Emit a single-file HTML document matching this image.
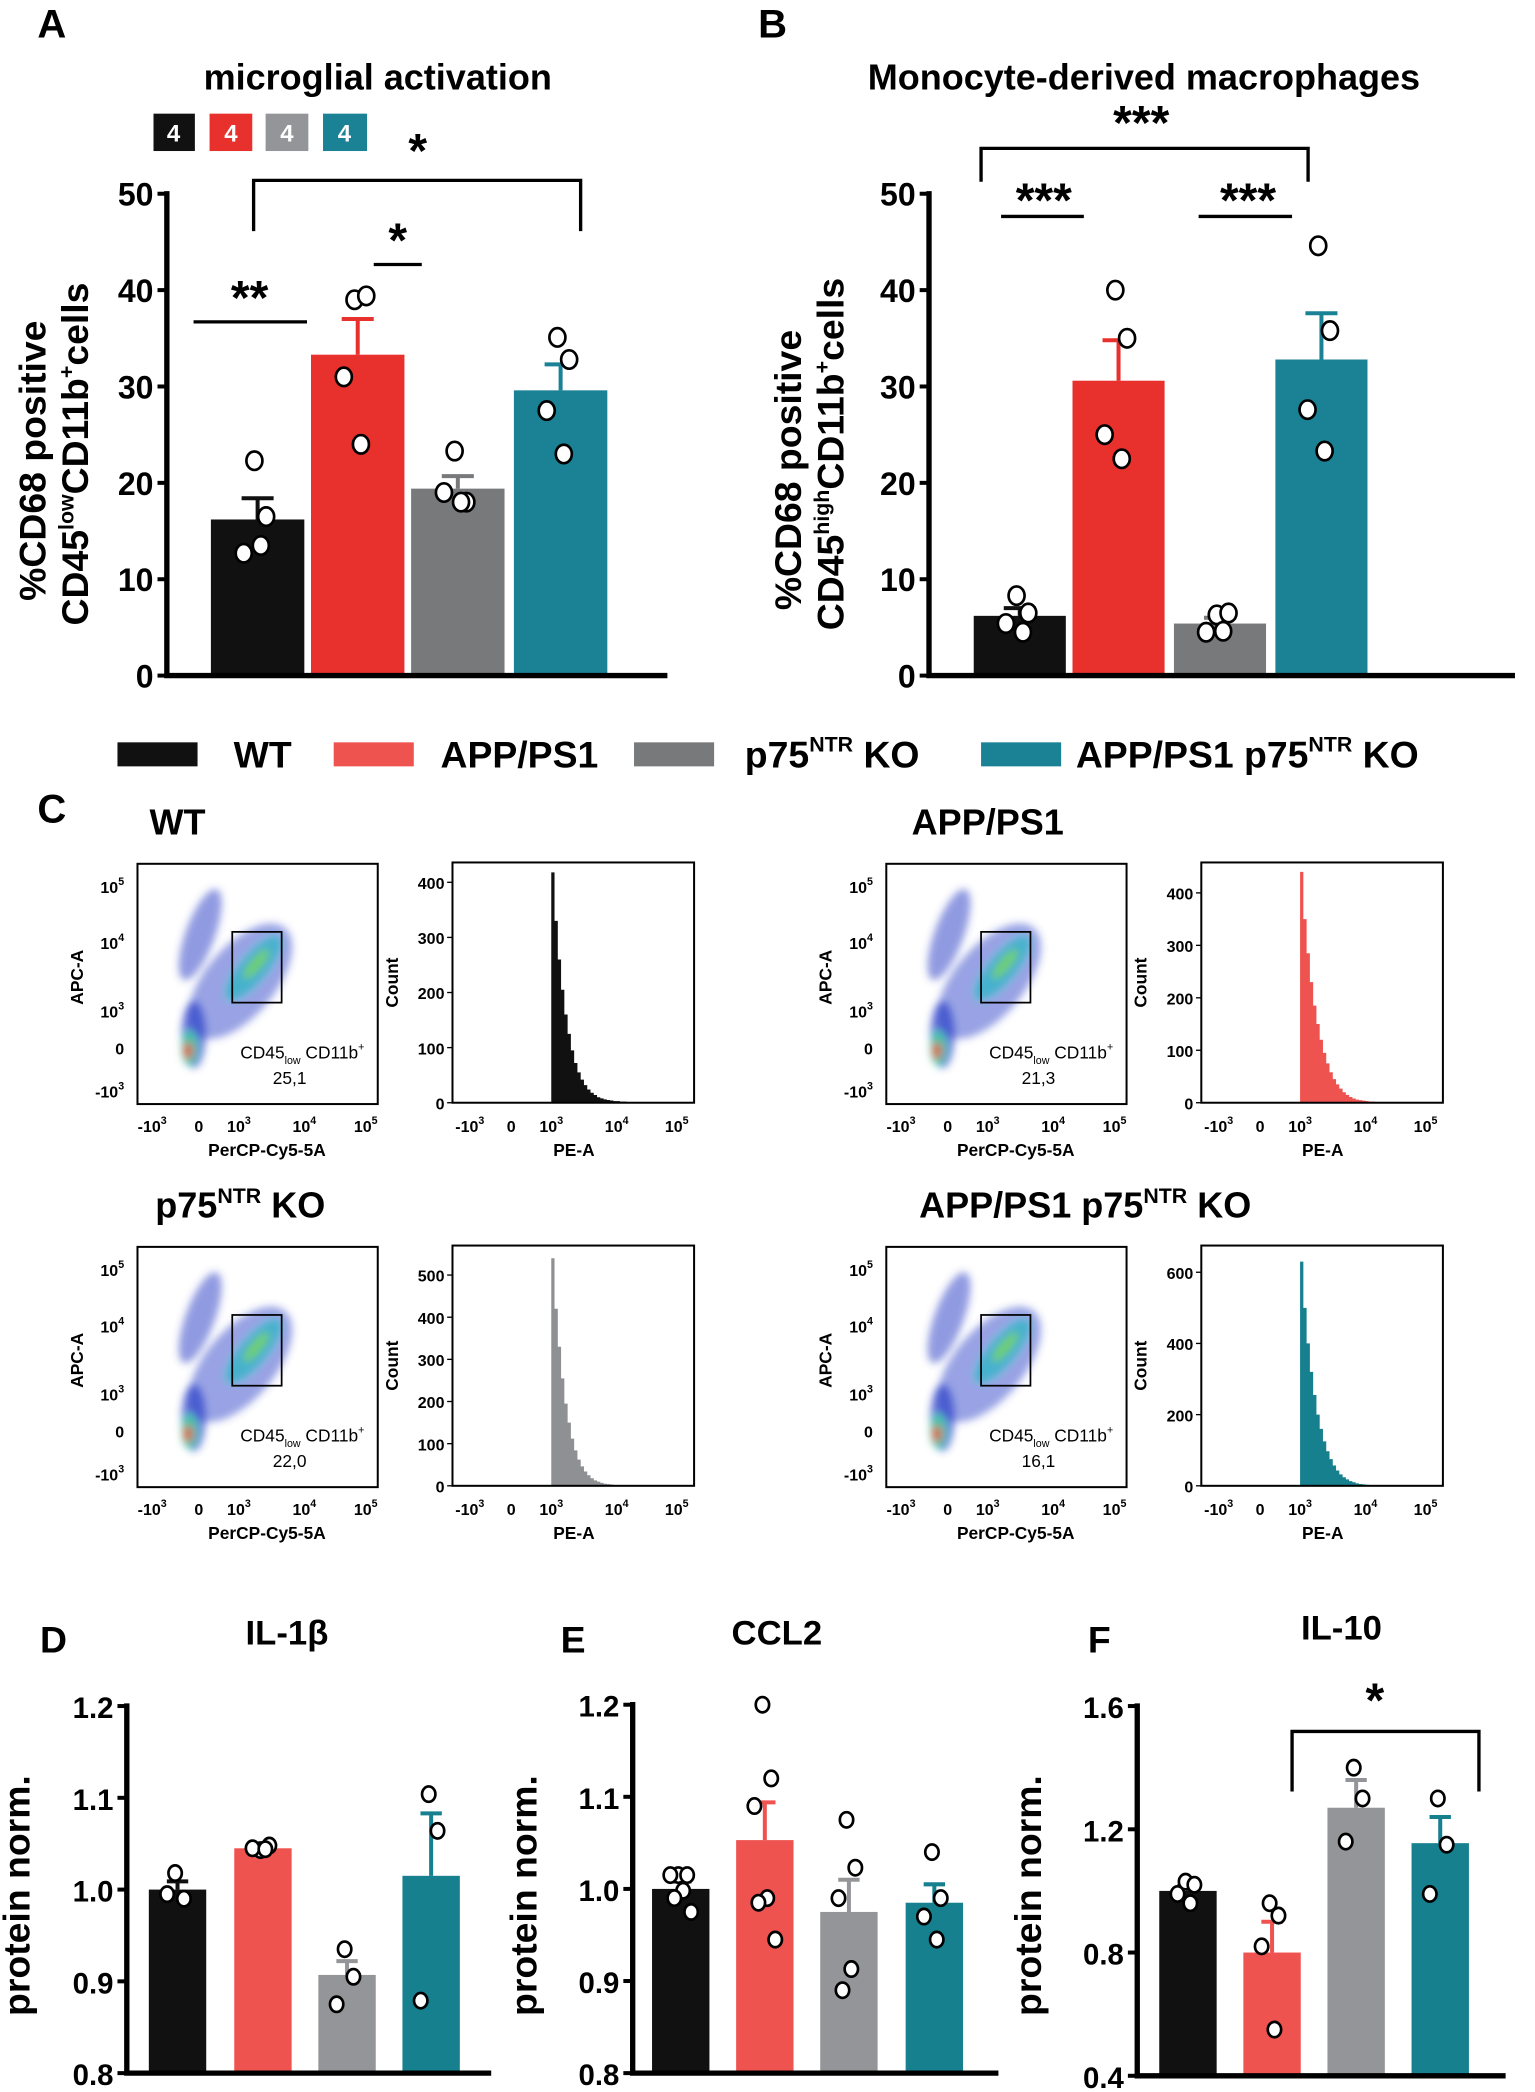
<!DOCTYPE html>
<html><head><meta charset="utf-8">
<style>
html,body{margin:0;padding:0;background:#fff;}
svg{display:block;font-family:"Liberation Sans",Arial,sans-serif;}
</style></head>
<body>
<svg id="fig" width="1535" height="2092" viewBox="0 0 1150 1567" xmlns="http://www.w3.org/2000/svg">
<defs>
<filter id="blur3"><feGaussianBlur stdDeviation="3"/></filter>
</defs>
<text x="28" y="28" font-size="30" font-weight="bold">A</text>
<text x="568" y="28" font-size="30" font-weight="bold">B</text>
<text x="28" y="616" font-size="30" font-weight="bold">C</text>
<text x="30" y="1238" font-size="28" font-weight="bold">D</text>
<text x="420" y="1238" font-size="28" font-weight="bold">E</text>
<text x="815" y="1238" font-size="28" font-weight="bold">F</text>
<text x="283" y="67" font-size="27" font-weight="bold" text-anchor="middle">microglial activation</text>
<text x="857" y="67" font-size="27" font-weight="bold" text-anchor="middle">Monocyte-derived macrophages</text>
<text x="215" y="1232" font-size="26" font-weight="bold" text-anchor="middle">IL-1β</text>
<text x="582" y="1232" font-size="26" font-weight="bold" text-anchor="middle">CCL2</text>
<text x="1005" y="1228" font-size="26" font-weight="bold" text-anchor="middle">IL-10</text>
<g font-size="18" font-weight="bold" fill="#fff" text-anchor="middle">
<rect x="115" y="85" width="31" height="28" fill="#111"/><text x="130" y="106">4</text>
<rect x="157" y="85" width="32" height="28" fill="#e8312d"/><text x="173" y="106">4</text>
<rect x="199" y="85" width="32" height="28" fill="#939598"/><text x="215" y="106">4</text>
<rect x="242" y="85" width="33" height="28" fill="#1b8296"/><text x="258" y="106">4</text>
</g>
<g font-size="28" font-weight="bold">
<text transform="translate(34,345) rotate(-90)" text-anchor="middle">%CD68 positive</text>
<text transform="translate(66,340) rotate(-90)" text-anchor="middle">CD45<tspan font-size="16" dy="-11">low</tspan><tspan dy="11">CD11b</tspan><tspan font-size="16" dy="-11">+</tspan><tspan dy="11">cells</tspan></text>
</g>
<g font-size="28" font-weight="bold">
<text transform="translate(600,352) rotate(-90)" text-anchor="middle">%CD68 positive</text>
<text transform="translate(632,340) rotate(-90)" text-anchor="middle">CD45<tspan font-size="16" dy="-11">high</tspan><tspan dy="11">CD11b</tspan><tspan font-size="16" dy="-11">+</tspan><tspan dy="11">cells</tspan></text>
</g>
<g font-size="28" font-weight="bold">
<rect x="88" y="556" width="60" height="18" fill="#111"/>
<text x="175" y="575">WT</text>
<rect x="250" y="556" width="60" height="18" fill="#ef5350"/>
<text x="330" y="575">APP/PS1</text>
<rect x="475" y="556" width="60" height="18" fill="#77797b"/>
<text x="558" y="575">p75<tspan font-size="16" dy="-12">NTR</tspan><tspan dy="12"> KO</tspan></text>
<rect x="735" y="556" width="60" height="18" fill="#1b8296"/>
<text x="806" y="575">APP/PS1 p75<tspan font-size="16" dy="-12">NTR</tspan><tspan dy="12"> KO</tspan></text>
</g>
<g id="layer"></g>
</svg>
<script>
const groups = ['WT','APP/PS1','p75NTR KO','APP/PS1 p75NTR KO'];
const aMeans = [16.2, 33.3, 19.4, 29.6];
const aErr = [2.2, 3.7, 1.3, 2.7];
const aPoints = [[22.3,16.5,12.7,13.5],[39,39.4,31,24],[23.3,18,19,18],[35.1,32.8,27.5,23]];
const bMeans = [6.2, 30.6, 5.4, 32.8];
const bErr = [0.8, 4.2, 0.6, 4.8];
const bPoints = [[8.3,6.5,5.4,4.5],[40,35,25,22.5],[6.3,6.5,4.5,4.6],[44.6,35.8,27.6,23.3]];
const abTicks = [0,10,20,30,40,50];
const dMeans = [1.0, 1.045, 0.907, 1.015];
const dErr = [0.009, 0.002, 0.015, 0.068];
const dPoints = [[1.018,0.99,0.995],[1.043,1.048,1.045,1.044],[0.935,0.905,0.875],[1.104,1.064,0.879]];
const deTicks = [0.8,0.9,1.0,1.1,1.2];
const eMeans = [1.0, 1.053, 0.975, 0.985];
const eErr = [0.008, 0.041, 0.035, 0.02];
const ePoints = [[1.015,1.015,1.015,0.998,0.99,0.975],[1.2,1.12,1.09,0.99,0.985,0.945],[1.075,1.023,0.99,0.913,0.89],[1.04,0.99,0.97,0.945]];
const fMeans = [1.0, 0.8, 1.27, 1.155];
const fErr = [0.015, 0.1, 0.09, 0.085];
const fPoints = [[1.03,1.02,0.99,0.96],[0.96,0.92,0.82,0.55],[1.4,1.3,1.16],[1.3,1.15,0.99]];
const fTicks = [0.4,0.8,1.2,1.6];
const histWT = [418,330,260,205,160,125,95,72,55,42,32,24,18,14,10,8,6,5,4,3,3,2,2,1,1];
const histAPP = [440,350,285,230,185,150,120,95,75,58,45,35,27,20,15,11,8,6,5,4,3,2,2,1,1];
const histP75 = [540,420,330,255,195,150,112,84,62,46,34,25,18,13,10,7,5,4,3,2,2,1,1,1,1];
const histAPPP75 = [630,500,400,320,255,200,160,125,97,75,57,43,32,24,18,13,10,7,5,4,3,2,2,1,1];
const gateValues = ['25,1','21,3','22,0','16,1'];

const NS='http://www.w3.org/2000/svg';
const layer=document.getElementById('layer');
function mk(tag,attrs,parent){const e=document.createElementNS(NS,tag);for(const k in attrs)e.setAttribute(k,attrs[k]);(parent||layer).appendChild(e);return e;}

const colsTop=['#111111','#e8312d','#77797b','#1b8296'];
const colsBot=['#111111','#ef5350','#939598','#17808f'];

function barChart(o,means,errs,pts,ticks,cols){
  const g=mk('g',{});
  
  
  const y=v=>o.y0-(v-o.vmin)/(o.vmax-o.vmin)*(o.y0-o.ytop);
  means.forEach((m,i)=>{
    const cx=o.cx[i];
    const r=mk('rect',{x:cx-o.bw/2,y:y(m),width:o.bw,height:o.y0-y(m),fill:cols[i]},g);
    
    
    const ey=y(m+errs[i]);
    const el=mk('path',{d:`M${cx},${y(m)}V${ey}M${cx-o.cap},${ey}H${cx+o.cap}`,stroke:cols[i],'stroke-width':o.ew,fill:'none'},g);
    
    
    pts[i].forEach((v,j)=>{
      const off=(j%2?1:-1)*o.sp*((j%3)/2+0.3);
      const c=mk('ellipse',{cx:cx+off,cy:y(v),rx:o.pr,ry:o.pr*1.15,fill:'#fff',stroke:'#000','stroke-width':2},g);
      
      
    });
  });
  mk('path',{d:`M${o.ax},${o.ytop-2}V${o.y0}H${o.axEnd}`,stroke:'#000','stroke-width':o.aw,fill:'none'},g);
  ticks.forEach(t=>{
    mk('line',{x1:o.ax-7,x2:o.ax,y1:y(t),y2:y(t),stroke:'#000','stroke-width':3},g);
    const tx=mk('text',{x:o.ax-10,y:y(t)+9,'font-size':o.fs,'font-weight':'bold','text-anchor':'end'},g);
    tx.textContent=o.fmt?t.toFixed(1):t;
    
    
  });
  return g;
}
barChart({name:'chart-a',ax:125,axEnd:500,y0:506,ytop:145,vmin:0,vmax:50,cx:[193,268,343,420],bw:70,cap:12,ew:3,pr:6,sp:8,aw:4,fs:24},aMeans,aErr,aPoints,abTicks,colsTop);
barChart({name:'chart-b',ax:696,axEnd:1135,y0:506,ytop:145,vmin:0,vmax:50,cx:[764,838,914,990],bw:69,cap:12,ew:3,pr:6,sp:8,aw:4,fs:24},bMeans,bErr,bPoints,abTicks,colsTop);
barChart({name:'chart-d',ax:95,axEnd:368,y0:1553,ytop:1278,vmin:0.8,vmax:1.2,cx:[133,197,260,323],bw:43,cap:8,ew:3,pr:5,sp:6,aw:4,fs:22,fmt:1},dMeans,dErr,dPoints,deTicks,colsBot);
barChart({name:'chart-e',ax:474,axEnd:748,y0:1553,ytop:1277,vmin:0.8,vmax:1.2,cx:[510,573,636,700],bw:43,cap:8,ew:3,pr:5,sp:6,aw:4,fs:22,fmt:1},eMeans,eErr,ePoints,deTicks,colsBot);
barChart({name:'chart-f',ax:852,axEnd:1128,y0:1555,ytop:1278,vmin:0.4,vmax:1.6,cx:[890,953,1016,1079],bw:43,cap:8,ew:3,pr:5,sp:6,aw:4,fs:22,fmt:1},fMeans,fErr,fPoints,fTicks,colsBot);

[[22,'y-axis-title-d'],[402,'y-axis-title-e'],[780,'y-axis-title-f']].forEach(([x,n])=>{
  const t=mk('text',{transform:`translate(${x},1420) rotate(-90)`,'font-size':28,'font-weight':'bold','text-anchor':'middle'});
  t.textContent='protein norm.';
  
  
});

function sig(d,sx,sy,label,name){
  const g=mk('g',{});
  
  
  mk('path',{d:d,stroke:'#000','stroke-width':2.5,fill:'none'},g);
  const t=mk('text',{x:sx,y:sy,'font-size':36,'font-weight':'bold','text-anchor':'middle'},g);
  t.textContent=label;
}
sig('M145,241H230',187,235,'**','sig-wt-app-a');
sig('M280,198H316',298,192,'*','sig-app-p75-a');
sig('M190,173V135H435V173',313,125,'*','sig-wt-appp75-a');
sig('M750,162H812',782,162,'***','sig-wt-app-b');
sig('M898,162H968',935,162,'***','sig-p75-appp75-b');
sig('M735,136V111H980V136',855,104,'***','sig-wt-appp75-b');
sig('M968,1342V1297H1108V1342',1030,1286,'*','sig-app-appp75-f');

const quads=[{dx:0,dy:0,title:'WT',tx:133,hist:histWT,ymax:436,ticks:[0,100,200,300,400],col:'#111'},
  {dx:561,dy:0,title:'APP/PS1',tx:179,hist:histAPP,ymax:458,ticks:[0,100,200,300,400],col:'#ef5350'},
  {dx:0,dy:287,title:'p75',tx:180,hist:histP75,ymax:570,ticks:[0,100,200,300,400,500],col:'#8e9093'},
  {dx:561,dy:287,title:'APP/PS1 p75',tx:252,hist:histAPPP75,ymax:675,ticks:[0,200,400,600],col:'#17808f'}];
const xt=['-10','0','10','10','10'];const xs=['3','','3','4','5'];
quads.forEach((q,qi)=>{
  const g=mk('g',{transform:`translate(${q.dx},${q.dy})`});
  
  
  const tt=mk('text',{x:q.tx,y:625,'font-size':27,'font-weight':'bold','text-anchor':'middle'},g);
  if(qi<2) tt.textContent=q.title;
  else tt.innerHTML=q.title+'<tspan font-size="16" dy="-11">NTR</tspan><tspan dy="11"> KO</tspan>';
  const sc=mk('g',{},g);
  
  
  const cl=mk('g',{filter:'url(#blur3)'},sc);
  mk('ellipse',{cx:150,cy:700,rx:11,ry:36,fill:'#3347c9',opacity:0.55,transform:'rotate(20 150 700)'},cl);
  mk('ellipse',{cx:180,cy:735,rx:26,ry:52,fill:'#3347c9',opacity:0.5,transform:'rotate(40 180 735)'},cl);
  mk('ellipse',{cx:145,cy:775,rx:9,ry:25,fill:'#2b3fc7',opacity:0.7},cl);
  mk('ellipse',{cx:190,cy:725,rx:10,ry:30,fill:'#2fb5c8',opacity:0.8,transform:'rotate(40 190 725)'},cl);
  mk('ellipse',{cx:192,cy:722,rx:4,ry:14,fill:'#6fd06a',transform:'rotate(40 192 722)'},cl);
  mk('ellipse',{cx:142,cy:785,rx:6,ry:13,fill:'#45c3a8'},cl);
  mk('ellipse',{cx:141,cy:787,rx:3,ry:6,fill:'#e84a1c'},cl);
  mk('rect',{x:103,y:647,width:180,height:180,fill:'none',stroke:'#000','stroke-width':1.5},sc);
  mk('rect',{x:174,y:698,width:37,height:53,fill:'none',stroke:'#000','stroke-width':1.3},sc);
  const yl=[[664,'5'],[706,'4'],[757,'3'],[785,''],[817,'3']];
  yl.forEach(([yy,s],k)=>{
    const t=mk('text',{x:93,y:yy+5,'font-size':12,'font-weight':'bold','text-anchor':'end'},sc);
    t.innerHTML=(k==3?'0':(k==4?'-10':'10'))+(s?`<tspan font-size="8" dy="-6">${s}</tspan>`:'');
  });
  [114,149,179,228,274].forEach((xx,k)=>{
    const t=mk('text',{x:xx,y:848,'font-size':12,'font-weight':'bold','text-anchor':'middle'},sc);
    t.innerHTML=xt[k]+(xs[k]?`<tspan font-size="8" dy="-6">${xs[k]}</tspan>`:'');
  });
  mk('text',{x:200,y:866,'font-size':13,'font-weight':'bold','text-anchor':'middle'},sc).textContent='PerCP-Cy5-5A';
  mk('text',{transform:'translate(62,732) rotate(-90)','font-size':13,'font-weight':'bold','text-anchor':'middle'},sc).textContent='APC-A';
  mk('text',{x:180,y:793,'font-size':13},sc).innerHTML='CD45<tspan font-size="8" dy="4">low</tspan><tspan dy="-4"> CD11b</tspan><tspan font-size="8" dy="-6">+</tspan>';
  mk('text',{x:217,y:812,'font-size':13,'text-anchor':'middle'},sc).textContent=gateValues[qi];
  const hg=mk('g',{},g);
  
  
  const hx=d=>339+74+(d-1)*49;
  const hy=c=>826-c*180/q.ymax;
  let dpath=`M${hx(1)},826`;
  q.hist.forEach((c,k)=>{const x0=hx(1+k*0.05),x1=hx(1+(k+1)*0.05);dpath+=`L${x0},${hy(c)}L${x1},${hy(c)}`;});
  dpath+=`L${hx(1+q.hist.length*0.05)},826Z`;
  const hp=mk('path',{d:dpath,fill:q.col},hg);
  
  
  mk('rect',{x:339,y:646,width:181,height:180,fill:'none',stroke:'#000','stroke-width':1.5},hg);
  q.ticks.forEach(t=>{
    mk('line',{x1:335,x2:339,y1:hy(t),y2:hy(t),stroke:'#000'},hg);
    mk('text',{x:333,y:hy(t)+5,'font-size':12,'font-weight':'bold','text-anchor':'end'},hg).textContent=t;
  });
  [352,383,413,462,507].forEach((xx,k)=>{
    const t=mk('text',{x:xx,y:848,'font-size':12,'font-weight':'bold','text-anchor':'middle'},hg);
    t.innerHTML=xt[k]+(xs[k]?`<tspan font-size="8" dy="-6">${xs[k]}</tspan>`:'');
  });
  mk('text',{x:430,y:866,'font-size':13,'font-weight':'bold','text-anchor':'middle'},hg).textContent='PE-A';
  mk('text',{transform:'translate(298,736) rotate(-90)','font-size':13,'font-weight':'bold','text-anchor':'middle'},hg).textContent='Count';
});
</script>
</body></html>
